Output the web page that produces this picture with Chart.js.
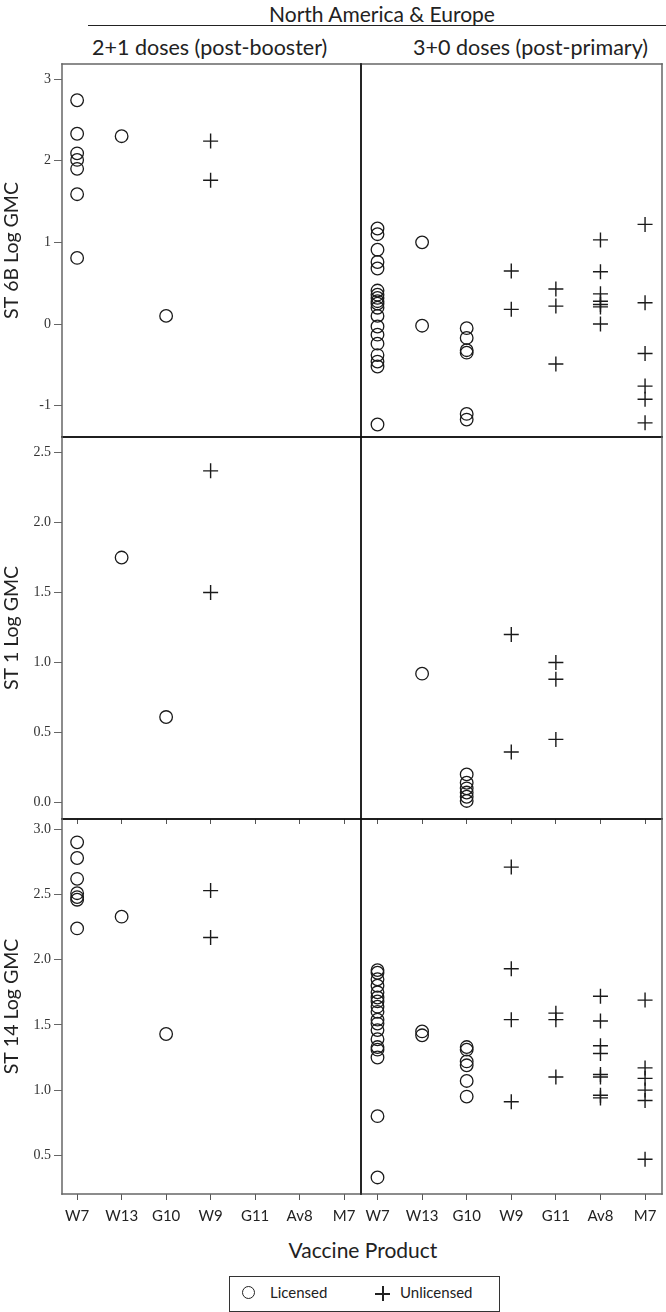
<!DOCTYPE html>
<html lang="en">
<head>
  <meta charset="UTF-8" />
  <title>Log GMC by vaccine product</title>
  <script src="https://cdn.jsdelivr.net/npm/chart.js"></script>
  <style>
    body { margin: 0; background: #fff; font-family: Lato, sans-serif; color: #222; }
    #page { position: relative; width: 666px; height: 1312px; overflow: hidden; }
    #page canvas { position: absolute; }
    .txt { position: absolute; white-space: nowrap; line-height: 1; }
    #region { top: 3px; left: 382px; transform: translateX(-50%); font-size: 21px; }
    #regionLine { position: absolute; left: 88px; top: 25px; width: 578px; height: 0; border-top: 1.5px solid #222; }
    #booster { top: 37px; left: 92px; font-size: 21.5px; }
    #primary { top: 37px; left: 413px; font-size: 21.5px; }
    #xTitle { top: 1239px; left: 363px; transform: translateX(-50%); font-size: 21px; }
    #legend { position: absolute; left: 229px; top: 1276px; width: 269px; height: 34px; border: 1.5px solid #333; }
    #legend .item { position: absolute; top: 8px; font-size: 15px; line-height: 1; }
    .circle { position: absolute; width: 11px; height: 11px; border: 1.4px solid #222; border-radius: 50%; }
    .cross { position: absolute; width: 15px; height: 15px; }
    .cross::before, .cross::after { content: ''; position: absolute; background: #222; }
    .cross::before { left: 0; top: 7px; width: 15px; height: 1.5px; }
    .cross::after { left: 7px; top: 0; width: 1.5px; height: 15px; }
  </style>
</head>
<body>
  <div id="page">
    <div class="txt" id="region">North America &amp; Europe</div>
    <div id="regionLine"></div>
    <div class="txt" id="booster">2+1 doses (post-booster)</div>
    <div class="txt" id="primary">3+0 doses (post-primary)</div>

    <canvas id="st6bBoosterChart" width="362" height="375" style="left:0;top:63px"></canvas>
    <canvas id="st6bPrimaryChart" width="306" height="375" style="left:360px;top:63px"></canvas>
    <canvas id="st1BoosterChart" width="362" height="388" style="left:0;top:436px"></canvas>
    <canvas id="st1PrimaryChart" width="306" height="388" style="left:360px;top:436px"></canvas>
    <canvas id="st14BoosterChart" width="362" height="416" style="left:0;top:818px"></canvas>
    <canvas id="st14PrimaryChart" width="306" height="416" style="left:360px;top:818px"></canvas>

    <div class="txt" id="xTitle">Vaccine Product</div>
    <div id="legend">
      <span class="circle" style="left:12px;top:9px"></span>
      <span class="item" style="left:40px">Licensed</span>
      <span class="cross" style="left:145px;top:9px"></span>
      <span class="item" style="left:170px">Unlicensed</span>
    </div>
  </div>

  <script>
    const products = ['W7', 'W13', 'G10', 'W9', 'G11', 'Av8', 'M7'];
    const licensedProducts = ['W7', 'W13', 'G10'];

    // one list of log GMC values per product, in the order of products
    const st6bBooster = [
      [2.74, 2.33, 2.09, 2.01, 1.90, 1.59, 0.81],
      [2.30],
      [0.10],
      [2.24, 1.76],
      [], [], []
    ];
    const st6bPrimary = [
      [1.17, 1.10, 0.91, 0.76, 0.68, 0.41, 0.36, 0.32, 0.28, 0.25, 0.20, 0.10, -0.03, -0.13, -0.24, -0.38, -0.46, -0.52, -1.23],
      [1.00, -0.02],
      [-0.05, -0.17, -0.32, -0.35, -1.10, -1.17],
      [0.65, 0.18],
      [0.43, 0.22, -0.49],
      [1.03, 0.64, 0.37, 0.28, 0.24, 0.21, 0.00],
      [1.22, 0.26, -0.36, -0.76, -0.92, -1.21]
    ];
    const st1Booster = [
      [],
      [1.75],
      [0.61],
      [2.37, 1.50],
      [], [], []
    ];
    const st1Primary = [
      [],
      [0.92],
      [0.20, 0.14, 0.10, 0.07, 0.04, 0.01],
      [1.20, 0.36],
      [1.00, 0.88, 0.45],
      [], []
    ];
    const st14Booster = [
      [2.90, 2.78, 2.62, 2.51, 2.48, 2.46, 2.24],
      [2.33],
      [1.43],
      [2.53, 2.17],
      [], [], []
    ];
    const st14Primary = [
      [1.92, 1.90, 1.85, 1.80, 1.75, 1.71, 1.68, 1.64, 1.60, 1.54, 1.51, 1.46, 1.39, 1.33, 1.31, 1.25, 0.80, 0.33],
      [1.45, 1.42],
      [1.33, 1.31, 1.22, 1.19, 1.07, 0.95],
      [2.71, 1.93, 1.54, 0.91],
      [1.59, 1.54, 1.10],
      [1.72, 1.53, 1.34, 1.28, 1.12, 1.10, 0.96, 0.94],
      [1.69, 1.17, 1.09, 1.00, 0.92, 0.47]
    ];

    const st6bTicks = [-1, 0, 1, 2, 3];
    const st1Ticks = [0, 0.5, 1, 1.5, 2, 2.5];
    const st14Ticks = [0.5, 1, 1.5, 2, 2.5, 3];

    const rows = [
      { title: 'ST 6B Log GMC', ticks: st6bTicks, min: -1.383, max: 3.184, fmt: v => String(v), xAxis: 0,
        booster: ['st6bBoosterChart', st6bBooster], primary: ['st6bPrimaryChart', st6bPrimary] },
      { title: 'ST 1 Log GMC', ticks: st1Ticks, min: -0.119, max: 2.612, fmt: v => v.toFixed(1), xAxis: 5,
        booster: ['st1BoosterChart', st1Booster], primary: ['st1PrimaryChart', st1Primary] },
      { title: 'ST 14 Log GMC', ticks: st14Ticks, min: 0.203, max: 3.079, fmt: v => v.toFixed(1), xAxis: 40,
        booster: ['st14BoosterChart', st14Booster], primary: ['st14PrimaryChart', st14Primary] }
    ];

    // panel box: outer edges grey, edges shared between panels black and a bit heavier
    const framePlugin = {
      id: 'frame',
      afterDraw(chart, args, opts) {
        const { ctx, chartArea: a } = chart;
        const edges = [
          [a.left, a.top, a.right, a.top, opts.inner.top],
          [a.right, a.top, a.right, a.bottom, opts.inner.right],
          [a.left, a.bottom, a.right, a.bottom, opts.inner.bottom],
          [a.left, a.top, a.left, a.bottom, opts.inner.left]
        ];
        ctx.save();
        ctx.lineCap = 'square';
        edges.forEach(([x1, y1, x2, y2, inner]) => {
          ctx.strokeStyle = inner ? '#111' : '#666';
          ctx.lineWidth = inner ? 1.4 : 1.5;
          ctx.beginPath();
          ctx.moveTo(x1, y1);
          ctx.lineTo(x2, y2);
          ctx.stroke();
        });
        ctx.restore();
      }
    };

    // keep tick labels from pushing the plot area in
    function noOverflow(s) {
      s.paddingTop = 0;
      s.paddingBottom = 0;
      s.paddingLeft = 0;
      s.paddingRight = 0;
    }

    function points(values, wantLicensed) {
      const pts = [];
      values.forEach((list, i) => {
        if (licensedProducts.includes(products[i]) !== wantLicensed) return;
        list.forEach(v => pts.push({ x: i, y: v }));
      });
      return pts;
    }

    function makePanel(row, rowIndex, side) {
      const [id, values] = row[side];
      const isLeft = side === 'booster';
      const xHeight = row.xAxis;

      new Chart(document.getElementById(id), {
        type: 'scatter',
        data: {
          datasets: [
            { label: 'Licensed', data: points(values, true), pointStyle: 'circle', pointRadius: 6.3,
              borderWidth: 1.3, borderColor: '#1a1a1a', backgroundColor: 'rgba(0,0,0,0)' },
            { label: 'Unlicensed', data: points(values, false), pointStyle: 'cross', pointRadius: 7.5,
              borderWidth: 1.4, borderColor: '#1a1a1a', backgroundColor: '#1a1a1a' }
          ]
        },
        options: {
          responsive: false,
          animation: false,
          events: [],
          layout: {
            autoPadding: false,
            padding: { top: 1, bottom: xHeight ? 0 : 1, left: isLeft ? 0 : 1, right: isLeft ? 1 : 4 }
          },
          plugins: {
            legend: { display: false },
            tooltip: { enabled: false },
            frame: {
              inner: {
                top: rowIndex > 0,
                bottom: rowIndex < rows.length - 1,
                left: !isLeft,
                right: isLeft
              }
            }
          },
          scales: {
            x: {
              type: 'linear',
              display: xHeight > 0,
              min: isLeft ? -0.34 : -0.37,
              max: 6.38,
              afterBuildTicks: s => { s.ticks = products.map((p, i) => ({ value: i })); },
              afterFit: s => { s.height = xHeight; noOverflow(s); },
              border: { display: false },
              grid: { drawOnChartArea: false, tickLength: 6, color: '#555' },
              ticks: {
                display: xHeight > 10,
                padding: 7,
                color: '#222',
                font: { family: 'Lato', size: 15 },
                callback: v => products[Math.round(v)]
              }
            },
            y: {
              display: isLeft,
              min: row.min,
              max: row.max,
              afterBuildTicks: s => { s.ticks = row.ticks.map(v => ({ value: v })); },
              afterFit: s => { s.width = isLeft ? 62 : 0; noOverflow(s); },
              border: { display: false },
              grid: { drawOnChartArea: false, tickLength: 8, color: '#666' },
              ticks: {
                padding: 3,
                color: '#333',
                font: { family: 'Liberation Serif', size: 14 },
                callback: v => row.fmt(v)
              },
              title: {
                display: true,
                text: row.title,
                color: '#222',
                padding: 0,
                font: { family: 'Lato', size: 19.5 }
              }
            }
          }
        },
        plugins: [framePlugin]
      });
    }

    rows.forEach((row, i) => {
      makePanel(row, i, 'booster');
      makePanel(row, i, 'primary');
    });
  </script>
</body>
</html>
